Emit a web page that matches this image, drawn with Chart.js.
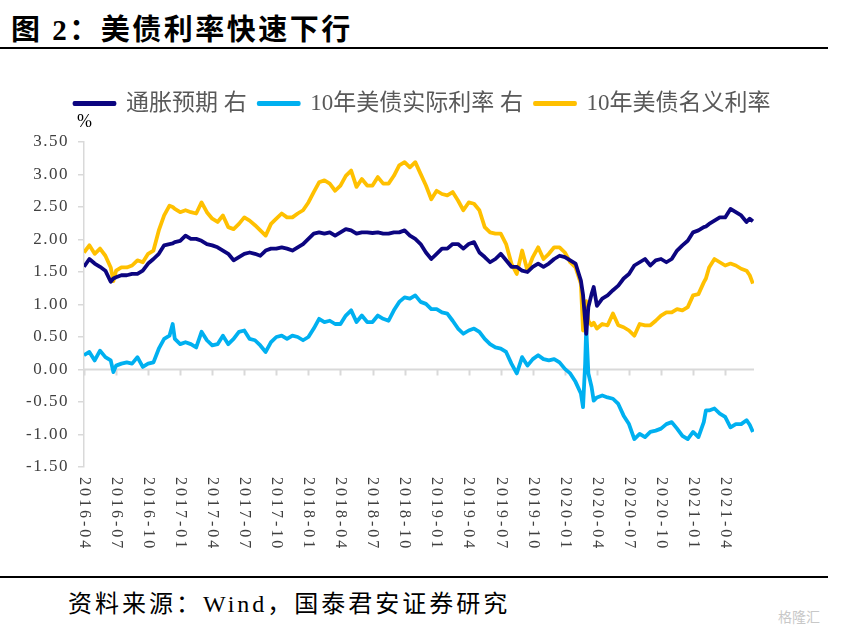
<!DOCTYPE html>
<html>
<head>
<meta charset="utf-8">
<script src="https://cdn.jsdelivr.net/npm/chart.js@4/dist/chart.umd.min.js"></script>
<style>
  html, body { margin: 0; padding: 0; background: #fff; }
  #page { position: relative; width: 845px; height: 633px; overflow: hidden; font-family: 'Liberation Serif', 'Noto Sans CJK SC', serif; }
  #title { position: absolute; left: 11px; top: 6px; font-size: 29px; font-weight: bold; color: #000; letter-spacing: 2.5px; }
  .rule { position: absolute; left: 0; width: 828px; height: 2px; background: #000; }
  #unit { position: absolute; left: 77px; top: 111px; font-size: 18px; color: #000; }
  #source { position: absolute; left: 68px; top: 584px; font-size: 24px; color: #000; letter-spacing: 3px; }
  #mark { position: absolute; left: 778px; top: 606px; font-size: 14px; color: #c8c8c8; font-family: 'Noto Sans CJK SC', sans-serif; }
  #chart { position: absolute; left: 0; top: 55px; }
</style>
</head>
<body>
<div id="page">
  <div id="title">图 2：美债利率快速下行</div>
  <div class="rule" style="top:47px"></div>
  <canvas id="chart" width="845" height="520"></canvas>
  <div id="unit">%</div>
  <div class="rule" style="top:576px"></div>
  <div id="source">资料来源：Wind，国泰君安证券研究</div>
  <div id="mark">格隆汇</div>
</div>
<script>
// x position in months after 2016-04
const monthPos = [
  0, 0.5, 1, 1.5, 2, 2.5, 2.75, 3, 3.5, 4, 4.5, 5, 5.5, 6, 6.5, 7, 7.5, 8, 8.3, 8.5,
  9, 9.5, 10, 10.5, 11, 11.5, 12, 12.5, 13, 13.5, 14, 14.5, 15, 15.5, 16, 16.5, 17, 17.5,
  18, 18.5, 19, 19.5, 20, 20.5, 21, 21.5, 22, 22.5, 23, 23.5, 24, 24.5, 25, 25.5, 26, 26.5,
  27, 27.5, 28, 28.5, 29, 29.5, 30, 30.5, 31, 31.5, 32, 32.5, 33, 33.5, 34, 34.5, 35, 35.5,
  36, 36.5, 37, 37.5, 38, 38.5, 39, 39.5, 40, 40.5, 41, 41.5, 42, 42.5, 43, 43.5, 44, 44.5,
  45, 45.5, 46, 46.5, 46.7, 46.9, 47, 47.2, 47.5, 47.7, 48, 48.5, 49, 49.5, 50, 50.5, 51, 51.5,
  52, 52.5, 53, 53.5, 54, 54.5, 55, 55.5, 56, 56.5, 57, 57.5, 58, 58.2, 58.5, 59, 59.5, 60,
  60.5, 61, 61.5, 62, 62.3, 62.6
];

const breakeven = [
  1.58, 1.70, 1.63, 1.58, 1.52, 1.35, 1.40, 1.42, 1.45, 1.45, 1.47, 1.47, 1.52, 1.63, 1.70, 1.78, 1.91, 1.93, 1.94, 1.96,
  1.98, 2.06, 2.01, 2.01, 1.98, 1.93, 1.91, 1.88, 1.83, 1.78, 1.68, 1.73, 1.78, 1.80, 1.78, 1.75, 1.83, 1.86,
  1.86, 1.88, 1.86, 1.83, 1.88, 1.93, 2.01, 2.09, 2.11, 2.09, 2.11, 2.06, 2.11, 2.16, 2.14, 2.09, 2.11, 2.11,
  2.10, 2.11, 2.09, 2.09, 2.11, 2.11, 2.14, 2.06, 2.01, 1.93, 1.80, 1.70, 1.78, 1.86, 1.86, 1.93, 1.93, 1.86,
  1.93, 1.96, 1.80, 1.73, 1.65, 1.70, 1.78, 1.68, 1.58, 1.58, 1.52, 1.50, 1.58, 1.63, 1.58, 1.63, 1.70, 1.75,
  1.73, 1.68, 1.63, 1.37, 1.15, 0.75, 0.55, 0.96, 1.16, 1.27, 0.98, 1.09, 1.14, 1.22, 1.29, 1.40, 1.47, 1.60,
  1.65, 1.70, 1.60, 1.68, 1.70, 1.65, 1.70, 1.83, 1.91, 1.98, 2.11, 2.14, 2.19, 2.20, 2.24, 2.29, 2.34, 2.34,
  2.47, 2.42, 2.37, 2.27, 2.32, 2.28
];

const realYield = [
  0.22, 0.27, 0.14, 0.29, 0.19, 0.14, -0.04, 0.06, 0.09, 0.11, 0.09, 0.19, 0.04, 0.09, 0.11, 0.32, 0.47, 0.52, 0.70, 0.47,
  0.39, 0.42, 0.39, 0.34, 0.58, 0.45, 0.37, 0.39, 0.52, 0.39, 0.47, 0.58, 0.60, 0.47, 0.45, 0.37, 0.27, 0.42,
  0.50, 0.52, 0.47, 0.52, 0.50, 0.45, 0.50, 0.63, 0.78, 0.73, 0.75, 0.70, 0.70, 0.83, 0.91, 0.73, 0.83, 0.73,
  0.73, 0.83, 0.78, 0.75, 0.91, 1.04, 1.11, 1.09, 1.14, 1.04, 1.01, 0.93, 0.93, 0.88, 0.86, 0.75, 0.63, 0.55,
  0.60, 0.63, 0.58, 0.47, 0.39, 0.34, 0.32, 0.27, 0.09, -0.06, 0.19, 0.06, 0.16, 0.22, 0.16, 0.14, 0.16, 0.11,
  0.01, -0.06, -0.19, -0.37, -0.58, 0.09, 0.65, -0.06, -0.27, -0.48, -0.43, -0.40, -0.43, -0.45, -0.53, -0.71, -0.84, -1.07,
  -0.99, -1.04, -0.96, -0.94, -0.91, -0.84, -0.81, -0.91, -1.02, -1.07, -0.96, -1.04, -0.81, -0.63, -0.63, -0.60, -0.68, -0.73,
  -0.89, -0.84, -0.84, -0.78, -0.85, -0.96
];

const nominalYield = [
  1.80, 1.91, 1.78, 1.86, 1.75, 1.57, 1.36, 1.52, 1.57, 1.57, 1.60, 1.68, 1.65, 1.78, 1.83, 2.14, 2.37, 2.52, 2.50, 2.47,
  2.42, 2.45, 2.42, 2.40, 2.57, 2.42, 2.32, 2.27, 2.37, 2.19, 2.16, 2.24, 2.34, 2.29, 2.22, 2.14, 2.06, 2.24,
  2.32, 2.40, 2.34, 2.34, 2.40, 2.45, 2.57, 2.73, 2.88, 2.91, 2.86, 2.75, 2.83, 2.98, 3.06, 2.81, 2.93, 2.83,
  2.83, 2.96, 2.86, 2.86, 2.98, 3.14, 3.19, 3.11, 3.19, 3.01, 2.83, 2.62, 2.75, 2.70, 2.68, 2.73, 2.60, 2.45,
  2.57, 2.55, 2.45, 2.19, 2.11, 2.09, 2.09, 1.93, 1.63, 1.47, 1.83, 1.52, 1.73, 1.88, 1.70, 1.78, 1.88, 1.88,
  1.80, 1.65, 1.57, 1.32, 0.60, 0.80, 1.05, 0.75, 0.68, 0.72, 0.63, 0.70, 0.68, 0.86, 0.68, 0.65, 0.60, 0.52,
  0.70, 0.68, 0.68, 0.75, 0.83, 0.88, 0.88, 0.93, 0.91, 0.96, 1.14, 1.16, 1.34, 1.40, 1.57, 1.70, 1.65, 1.60,
  1.63, 1.60, 1.55, 1.52, 1.45, 1.32
];

const tickMonths = [0, 3, 6, 9, 12, 15, 18, 21, 24, 27, 30, 33, 36, 39, 42, 45, 48, 51, 54, 57, 60];
const tickLabels = [
  '2016-04', '2016-07', '2016-10', '2017-01', '2017-04', '2017-07', '2017-10',
  '2018-01', '2018-04', '2018-07', '2018-10', '2019-01', '2019-04', '2019-07',
  '2019-10', '2020-01', '2020-04', '2020-07', '2020-10', '2021-01', '2021-04'
];

const seriesNames = ['通胀预期 右', '10年美债实际利率 右', '10年美债名义利率'];
const seriesColors = ['#0c0580', '#00b0f0', '#ffc000'];

const axisGray = '#d9d9d9';
const textGray = '#404040';
const serifFont = "'Liberation Serif', 'Noto Sans CJK SC', serif";

function toPoints(values) {
  return values.map((v, i) => ({ x: monthPos[i], y: v }));
}

// room between the legend and the plot, and the legend centred on the page
const legendPlacePlugin = {
  id: 'legendPlace',
  beforeInit(chart) {
    const fit = chart.legend.fit;
    chart.legend.fit = function () {
      fit.bind(chart.legend)();
      this.height += 17;
    };
  },
  afterLayout(chart) {
    const lg = chart.legend;
    const shift = chart.width / 2 - (lg.left + lg.right) / 2;
    lg.left += shift;
    lg.right += shift;
  }
};

// zero line with ticks, value labels and the date labels turned clockwise
const axisTextPlugin = {
  id: 'axisText',
  beforeDatasetsDraw(chart) {
    const ctx = chart.ctx;
    const area = chart.chartArea;
    const xs = chart.scales.x;
    const ys = chart.scales.y;
    const y0 = ys.getPixelForValue(0);

    ctx.save();
    ctx.strokeStyle = axisGray;
    ctx.lineWidth = 2;
    ctx.beginPath();
    ctx.moveTo(area.left, y0);
    ctx.lineTo(area.right, y0);
    tickMonths.forEach(m => {
      const px = Math.round(xs.getPixelForValue(m)) + 0.5;
      ctx.moveTo(px, y0);
      ctx.lineTo(px, y0 + 6);
    });
    ctx.stroke();

    ctx.fillStyle = textGray;
    ctx.letterSpacing = '1.5px';
    ctx.font = '17px ' + serifFont;
    ctx.textAlign = 'right';
    ctx.textBaseline = 'middle';
    ys.ticks.forEach(t => {
      ctx.fillText(t.value.toFixed(2), area.left - 15, ys.getPixelForValue(t.value));
    });

    ctx.letterSpacing = '3px';
    ctx.font = '16px ' + serifFont;
    ctx.textAlign = 'left';
    tickMonths.forEach((m, i) => {
      const px = xs.getPixelForValue(m);
      ctx.save();
      ctx.translate(px, area.bottom + 10);
      ctx.rotate(Math.PI / 2);
      ctx.fillText(tickLabels[i], 0, 0);
      ctx.restore();
    });
    ctx.restore();
  }
};

function initChart() {
  const ctx = document.getElementById('chart').getContext('2d');
  const allSeries = [breakeven, realYield, nominalYield];

  new Chart(ctx, {
    type: 'line',
    data: {
      datasets: allSeries.map((values, i) => ({
        label: seriesNames[i],
        data: toPoints(values),
        borderColor: seriesColors[i],
        backgroundColor: seriesColors[i],
        borderWidth: 3.8,
        borderJoinStyle: 'round',
        pointRadius: 0,
        tension: 0,
        order: i === 0 ? 1 : (i === 1 ? 2 : 3)
      }))
    },
    options: {
      responsive: false,
      animation: false,
      layout: {
        padding: { top: 25, right: 91, bottom: 8, left: 0 }
      },
      plugins: {
        legend: {
          position: 'top',
          labels: {
            color: '#595959',
            boxWidth: 40,
            boxHeight: 1,
            padding: 12,
            font: { family: serifFont, size: 23 }
          }
        },
        tooltip: { enabled: false }
      },
      scales: {
        x: {
          type: 'linear',
          min: 0,
          max: 62.7,
          grid: { display: false },
          border: { display: false },
          ticks: { display: false },
          afterFit(scale) { scale.height = 100; }
        },
        y: {
          min: -1.5,
          max: 3.5,
          grid: {
            drawOnChartArea: false,
            drawTicks: true,
            tickLength: 6,
            color: axisGray,
            lineWidth: 1.5
          },
          border: { color: axisGray, width: 1.5 },
          ticks: { stepSize: 0.5, display: false },
          afterFit(scale) { scale.width = 84; }
        }
      }
    },
    plugins: [legendPlacePlugin, axisTextPlugin]
  });
}

document.addEventListener('DOMContentLoaded', () => {
  initChart();
});
</script>
</body>
</html>
